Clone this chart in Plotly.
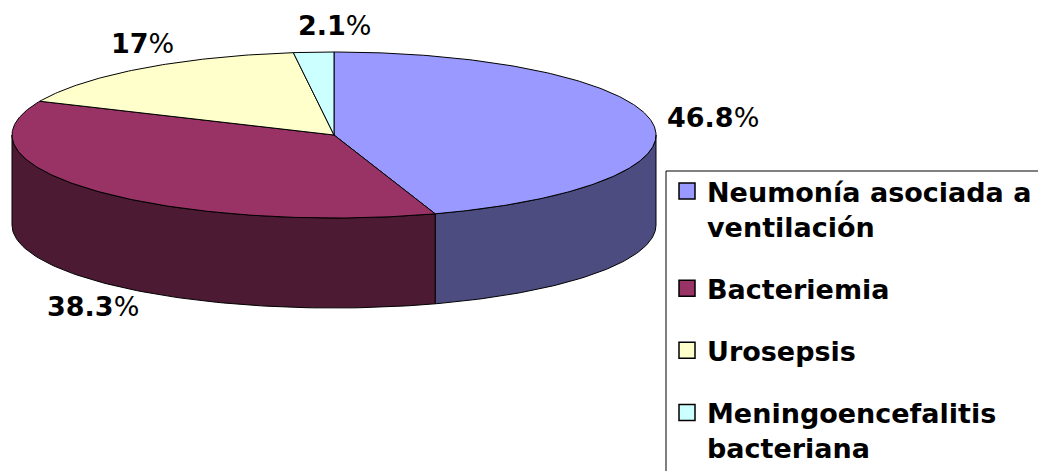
import numpy as np
import plotly.graph_objects as go

# ---- data ----
categories = ["Neumonía asociada a ventilación", "Bacteriemia", "Urosepsis",
              "Meningoencefalitis bacteriana"]
legend_labels = ["Neumonía asociada a<br>ventilación", "Bacteriemia", "Urosepsis",
                 "Meningoencefalitis<br>bacteriana"]
values = [46.8, 38.3, 17, 2.1]
value_labels = ["46.8", "38.3", "17", "2.1"]

# ---- style ----
top_colors = ["#9999FF", "#993366", "#FFFFCC", "#CCFFFF"]
side_colors = ["#4C4C80", "#4C1A33", "#808066", "#668080"]
W, H = 1038, 471
CX, CY, RX, RY, DEPTH = 334, 135, 322, 83, 90
FONT = "DejaVu Sans, Arial, sans-serif"


def pt(theta_deg, dy=0.0):
    t = np.radians(theta_deg)
    return CX + RX * np.sin(t), CY - RY * np.cos(t) + dy


total = sum(values)
bounds = np.concatenate([[0.0], np.cumsum(values) / total * 360.0])

fig = go.Figure()

# side walls (visible front half only)
for i in range(len(values)):
    a0, a1 = bounds[i], bounds[i + 1]
    s0, s1 = max(a0, 90.0), min(a1, 270.0)
    if s1 <= s0:
        continue
    th = np.linspace(s0, s1, 80)
    xt, yt = pt(th)
    xb, yb = pt(th[::-1], DEPTH)
    xs = np.concatenate([xt, xb, xt[:1]])
    ys = np.concatenate([yt, yb, yt[:1]])
    fig.add_trace(go.Scatter(x=xs, y=ys, mode="lines", fill="toself",
                             fillcolor=side_colors[i],
                             line=dict(color="black", width=1),
                             hoverinfo="skip", showlegend=False))

# top faces
for i in range(len(values)):
    a0, a1 = bounds[i], bounds[i + 1]
    th = np.linspace(a0, a1, max(int((a1 - a0) * 1.5), 4))
    xt, yt = pt(th)
    xs = np.concatenate([[CX], xt, [CX]])
    ys = np.concatenate([[CY], yt, [CY]])
    fig.add_trace(go.Scatter(x=xs, y=ys, mode="lines", fill="toself",
                             fillcolor=top_colors[i],
                             line=dict(color="black", width=1),
                             hoverinfo="skip", showlegend=False))

# legend entries
for i in range(len(values)):
    fig.add_trace(go.Scatter(x=[None], y=[None], mode="markers",
                             name=legend_labels[i], legendgroup=f"g{i}",
                             marker=dict(symbol="square", size=16,
                                         color=top_colors[i],
                                         line=dict(color="black", width=1.5))))

# value labels
label_shift = [(13, -4, "left", "middle"), (-2, 26, "center", "middle"),
               (1, -25, "center", "middle"), (21, -27, "center", "middle")]
for i in range(len(values)):
    mid = (bounds[i] + bounds[i + 1]) / 2
    front = 90 < mid < 270
    x, y = pt(mid, DEPTH if front else 0)
    dx, dy, xa, ya = label_shift[i]
    fig.add_annotation(x=x + dx, y=y + dy, xref="x", yref="y",
                       text=f"<b>{value_labels[i]}</b>%", showarrow=False,
                       xanchor=xa, yanchor=ya,
                       font=dict(family=FONT, size=27, color="black"))

# legend frame (runs off the right and bottom edges, as in the original)
fig.add_shape(type="rect", xref="x", yref="y", x0=666, y0=171, x1=W + 20, y1=H + 20,
              line=dict(color="black", width=1), fillcolor="rgba(0,0,0,0)",
              layer="above")

fig.update_layout(
    width=W, height=H,
    margin=dict(l=0, r=0, t=0, b=0, pad=0, autoexpand=False),
    paper_bgcolor="white", plot_bgcolor="white",
    xaxis=dict(range=[0, W], visible=False, fixedrange=True),
    yaxis=dict(range=[H, 0], visible=False, fixedrange=True),
    showlegend=True,
    legend=dict(x=667 / W, y=1 - 167 / H, xanchor="left", yanchor="top",
                borderwidth=0, bgcolor="rgba(0,0,0,0)",
                font=dict(family=FONT, size=27, color="black", weight="bold"),
                tracegroupgap=24, valign="top", itemsizing="trace"),
)

fig.write_html("out.html", config={"displayModeBar": False},
               post_script="document.body.style.margin='0';")
